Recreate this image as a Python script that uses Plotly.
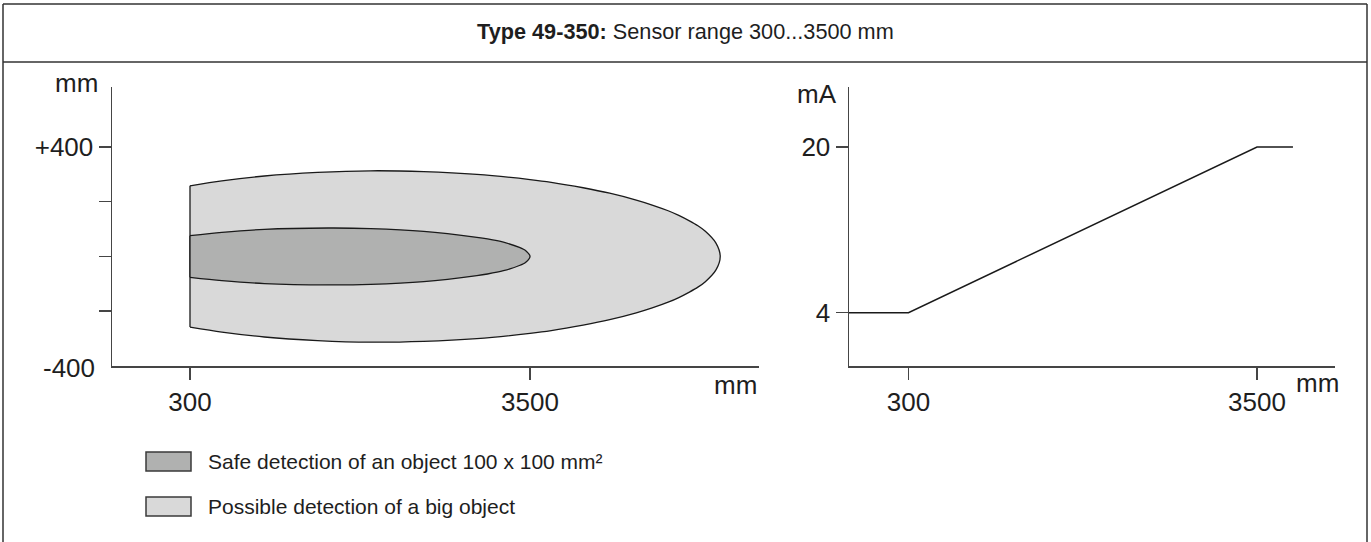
import plotly.graph_objects as go

W, H = 1371, 542

# ---------------- data ----------------
# Left chart: detection field, distance (mm) vs lateral half-width (mm)
outer_x = [300, 600, 1000, 1500, 2000, 2500, 3000, 3500, 3700, 4000, 4250, 4500,
           4650, 4800, 4900, 5000, 5080, 5150, 5250, 5290]
outer_half = [258, 276, 294, 307, 313, 310, 300, 281, 271, 251, 231, 206,
              188, 167, 150, 130, 112, 92, 49, 0]
inner_x = [300, 600, 1000, 1600, 2000, 2500, 3000, 3100, 3250, 3400, 3460, 3500]
inner_half = [76, 88, 99, 104, 102, 92, 70, 64, 52, 33, 21, 0]

left_xticks = [300, 3500]
left_yticks = [-200, 0, 200, 400]
left_yticktext = ["", "", "", "+400"]

# Right chart: analogue output current vs distance
curve_x = [-246, 300, 3500, 3830]
curve_mA = [4, 4, 20, 20]
right_xticks = [300, 3500]
right_yticks = [4, 20]

legend_labels = ["Safe detection of an object 100 x 100 mm²",
                 "Possible detection of a big object"]
title_bold = "Type 49-350:"
title_rest = " Sensor range 300...3500 mm"

# ---------------- style ----------------
FONT = "Liberation Sans, Arial, Helvetica, sans-serif"
TXT = "#1e1e1e"
AXC = "#454545"
EDGE = "#1a1a1a"
INNER_FILL = "#b0b1b0"
OUTER_FILL = "#d9d9d9"


def px(x):
    return x / W


def py(y):
    return 1 - y / H


def closed_outline(xs, half):
    # upper edge from start to tip, then lower edge back to start
    x = list(xs) + list(xs[-2::-1])
    y = list(half) + [-v for v in half[-2::-1]]
    return x, y


fig = go.Figure()

ox, oy = closed_outline(outer_x, outer_half)
ix, iy = closed_outline(inner_x, inner_half)

fig.add_trace(go.Scatter(x=ox, y=oy, mode="lines", fill="toself", fillcolor=OUTER_FILL,
                         line=dict(color=EDGE, width=1.3, shape="spline", smoothing=0.8),
                         xaxis="x", yaxis="y", showlegend=False, hoverinfo="skip"))
fig.add_trace(go.Scatter(x=[outer_x[0], outer_x[0]], y=[-outer_half[0], outer_half[0]],
                         mode="lines", line=dict(color=EDGE, width=1.3),
                         xaxis="x", yaxis="y", showlegend=False, hoverinfo="skip"))
fig.add_trace(go.Scatter(x=ix, y=iy, mode="lines", fill="toself", fillcolor=INNER_FILL,
                         line=dict(color=EDGE, width=1.3, shape="spline", smoothing=0.8),
                         xaxis="x", yaxis="y", showlegend=False, hoverinfo="skip"))
fig.add_trace(go.Scatter(x=[inner_x[0], inner_x[0]], y=[-inner_half[0], inner_half[0]],
                         mode="lines", line=dict(color=EDGE, width=1.3),
                         xaxis="x", yaxis="y", showlegend=False, hoverinfo="skip"))

fig.add_trace(go.Scatter(x=curve_x, y=curve_mA, mode="lines",
                         line=dict(color=EDGE, width=1.5),
                         xaxis="x2", yaxis="y2", showlegend=False, hoverinfo="skip"))

axis_common = dict(showline=True, linecolor=AXC, linewidth=1.5, ticks="outside",
                   ticklen=12, tickwidth=1.5, tickcolor=AXC, showgrid=False,
                   zeroline=False, tickfont=dict(family=FONT, size=26, color=TXT),
                   fixedrange=True)

ydom = [py(366), py(87)]

fig.update_layout(
    width=W, height=H,
    margin=dict(l=0, r=0, t=0, b=0),
    paper_bgcolor="white", plot_bgcolor="white",
    showlegend=False,
    xaxis=dict(domain=[px(112), px(759)], range=[-434, 5655], anchor="y",
               tickvals=left_xticks, ticktext=[str(v) for v in left_xticks], **axis_common),
    yaxis=dict(domain=ydom, range=[-400, 619], anchor="x",
               tickvals=left_yticks, ticktext=left_yticktext, **axis_common),
    xaxis2=dict(domain=[px(849), px(1335)], range=[-246, 4216], anchor="y2",
                tickvals=right_xticks, ticktext=[str(v) for v in right_xticks], **axis_common),
    yaxis2=dict(domain=ydom, range=[-1.15, 25.79], anchor="x2",
                tickvals=right_yticks, ticktext=[str(v) for v in right_yticks], **axis_common),
)

shapes = []
frame = dict(type="line", xref="paper", yref="paper", line=dict(color="#333333", width=1.5))
shapes.append(dict(frame, x0=px(3), x1=px(1367), y0=py(4), y1=py(4)))
shapes.append(dict(frame, x0=px(3), x1=px(1367), y0=py(62), y1=py(62)))
shapes.append(dict(frame, x0=px(3), x1=px(3), y0=py(4), y1=py(545)))
shapes.append(dict(frame, x0=px(1367), x1=px(1367), y0=py(4), y1=py(545)))

# legend swatches
for (y0, y1), col in zip([(452, 471), (497, 516)], [INNER_FILL, OUTER_FILL]):
    shapes.append(dict(type="rect", xref="paper", yref="paper",
                       x0=px(146), x1=px(191), y0=py(y1), y1=py(y0),
                       fillcolor=col, line=dict(color="#3a3a3a", width=1.5)))
fig.update_layout(shapes=shapes)

ann = []


def text(t, x, y, size, xanchor="center"):
    ann.append(dict(text=t, x=px(x), y=py(y), xref="paper", yref="paper",
                    xanchor=xanchor, yanchor="middle", showarrow=False,
                    font=dict(family=FONT, size=size, color=TXT)))


text("<b>" + title_bold + "</b>" + title_rest, 685, 32, 21.7)
text("mm", 100, 83, 26, "right")
text("-400", 97, 368, 26, "right")
text("mm", 735, 385, 26)
text("mA", 839, 94, 26, "right")
text("mm", 1317, 383, 26)
text(legend_labels[0], 206, 461.5, 21, "left")
text(legend_labels[1], 206, 506.5, 21, "left")
fig.update_layout(annotations=ann)

fig.write_html(
    "out.html",
    config={"displayModeBar": False, "staticPlot": True},
    post_script="document.body.style.margin='0';document.body.style.padding='0';"
                "document.body.style.overflow='hidden';",
)
